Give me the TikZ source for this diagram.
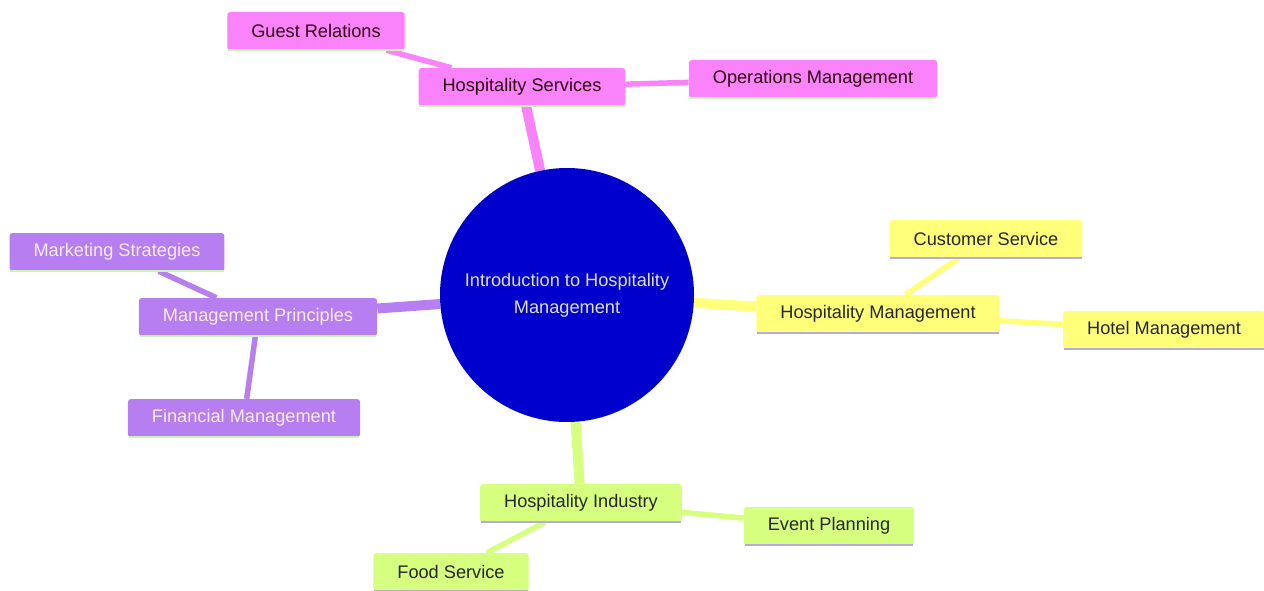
\documentclass[tikz,border=0pt]{standalone}
\usepackage{fontspec}
\setmainfont{Liberation Sans}
\usetikzlibrary{backgrounds}
\definecolor{rootblue}{RGB}{0,0,205}
\definecolor{pinkfill}{RGB}{250,130,250}
\definecolor{purplefill}{RGB}{182,126,240}
\definecolor{yellowfill}{RGB}{255,255,122}
\definecolor{greenfill}{RGB}{214,255,128}
\definecolor{greenline}{RGB}{200,245,180}
\definecolor{lavline}{RGB}{180,170,225}
\tikzset{
  topic/.style={rectangle,rounded corners=3pt,minimum height=38pt,inner xsep=24pt,
    font=\fontsize{18.2}{21}\selectfont,text=#1},
  root/.style={circle,fill=rootblue,minimum size=254pt,inner sep=0pt,align=center,
    text=white!88!black,font=\fontsize{18.2}{27}\selectfont},
  trunk/.style={line width=10pt,draw=#1},
  twig/.style={line width=5.5pt,draw=#1}
}
\begin{document}
\begin{tikzpicture}[x=1pt,y=1pt]
\useasboundingbox (0,0) rectangle (1264,-591);
\node[root] (intro) at (567,-295) {Introduction to Hospitality\\Management};
% pink branch
\node[topic=black!75!purple,fill=pinkfill] (services) at (522,-87) {Hospitality Services};
\node[topic=black!75!purple,fill=pinkfill] (guest) at (316,-31) {Guest Relations};
\node[topic=black!75!purple,fill=pinkfill] (operations) at (813,-79) {Operations Management};
% purple branch
\node[topic=white!92!purple,fill=purplefill] (principles) at (258,-317) {Management Principles};
\node[topic=white!92!purple,fill=purplefill] (marketing) at (117,-252) {Marketing Strategies};
\node[topic=white!92!purple,fill=purplefill] (financial) at (244,-418) {Financial Management};
% yellow branch
\node[topic=black!85,fill=yellowfill] (hospmgmt) at (878,-314) {Hospitality Management};
\node[topic=black!85,fill=yellowfill] (customer) at (986,-239) {Customer Service};
\node[topic=black!85,fill=yellowfill] (hotel) at (1164,-330) {Hotel Management};
% green branch
\node[topic=black!85,fill=greenfill] (industry) at (581,-503) {Hospitality Industry};
\node[topic=black!85,fill=greenfill] (event) at (829,-526) {Event Planning};
\node[topic=black!85,fill=greenfill] (food) at (451,-572) {Food Service};
% underlines
\foreach \n/\c in {services/greenline,guest/greenline,operations/greenline,
    principles/greenline,marketing/greenline,financial/greenline,
    hospmgmt/lavline,customer/lavline,hotel/lavline,
    industry/lavline,event/lavline,food/lavline}
  \draw[\c,line width=2pt] ([xshift=1pt]\n.south west) -- ([xshift=-1pt]\n.south east);
\begin{scope}[on background layer]
\draw[trunk=pinkfill] (intro) -- (services);
\draw[trunk=purplefill] (intro) -- (principles);
\draw[trunk=yellowfill] (intro) -- (hospmgmt);
\draw[trunk=greenfill] (intro) -- (industry);
\draw[twig=pinkfill] (services) -- (guest);
\draw[twig=pinkfill] (services) -- (operations);
\draw[twig=purplefill] (principles) -- (marketing);
\draw[twig=purplefill] (principles) -- (financial);
\draw[twig=yellowfill] (hospmgmt) -- (customer);
\draw[twig=yellowfill] (hospmgmt) -- (hotel);
\draw[twig=greenfill] (industry) -- (event);
\draw[twig=greenfill] (industry) -- (food);
\end{scope}
\end{tikzpicture}
\end{document}
